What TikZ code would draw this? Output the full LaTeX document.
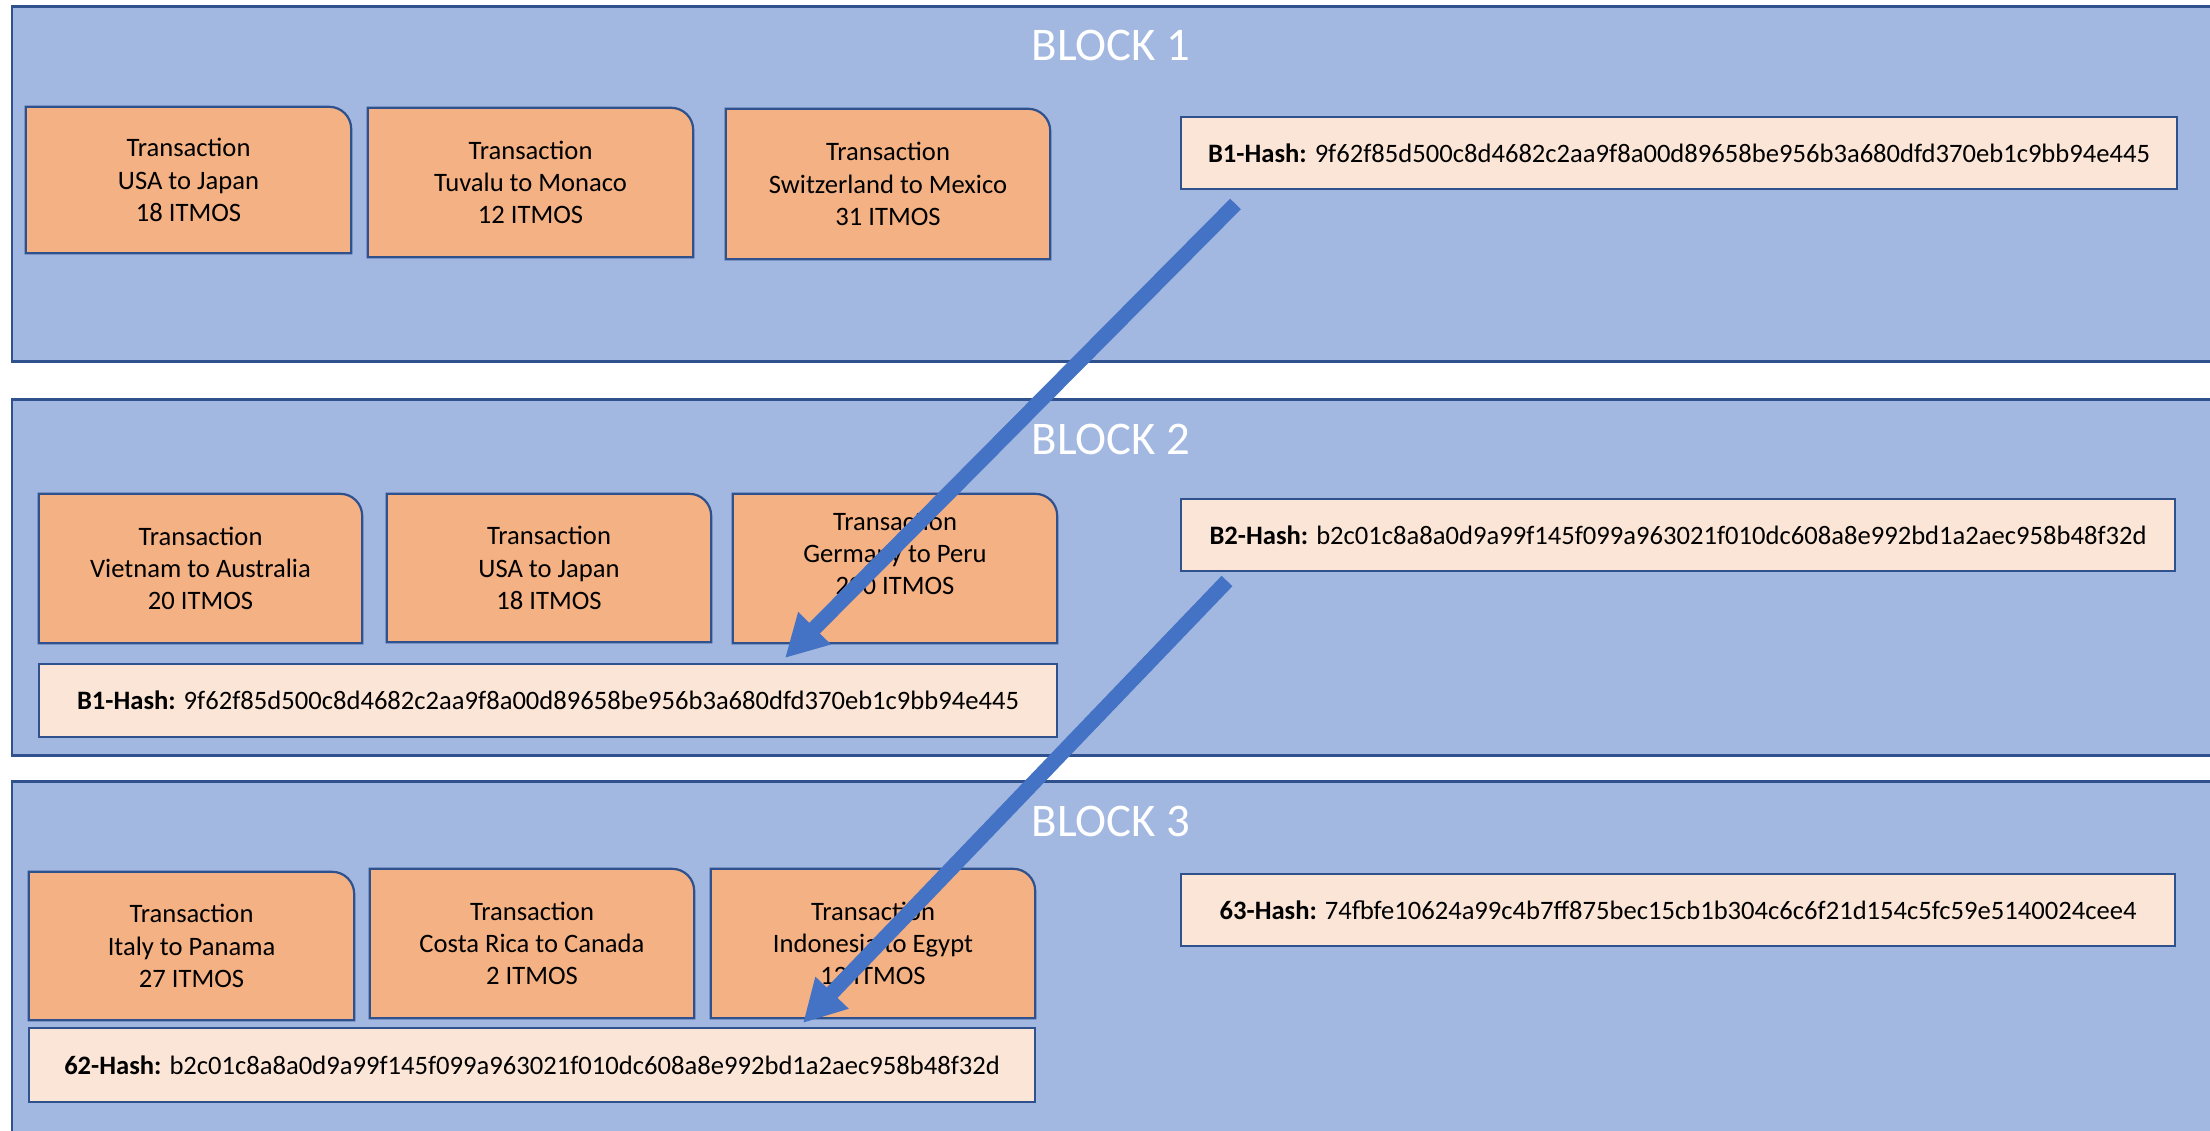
\documentclass[tikz,border=0pt]{standalone}
\usepackage{fontspec}
\setmainfont{Carlito}
\usetikzlibrary{arrows.meta,backgrounds}
\definecolor{blockfill}{HTML}{A2B8E1}
\definecolor{edgeblue}{HTML}{2F528F}
\definecolor{txfill}{HTML}{F4B183}
\definecolor{hashfill}{HTML}{FBE5D6}
\definecolor{arrowblue}{HTML}{4472C4}
\newcommand\bodysize{\fontsize{26.6pt}{32.3pt}\selectfont}
\newcommand\titlesize{\fontsize{46.8pt}{56pt}\selectfont}
\tikzset{
  blockbox/.style={fill=blockfill, draw=edgeblue, line width=2.6pt},
  txnode/.style={draw=none, fill=none, align=center, inner sep=0pt, font=\bodysize},
  txshape/.style={fill=txfill, draw=edgeblue, line width=2.2pt},
  hashbox/.style={fill=hashfill, draw=edgeblue, line width=2.2pt, inner sep=0pt, font=\bodysize},
  blocktitle/.style={text=white, inner sep=0pt, font=\titlesize},
  link/.style={draw=arrowblue, line width=15pt, -{Triangle[length=42pt,width=43pt]}}
}
\begin{document}
\begin{tikzpicture}[x=1pt,y=-1pt]
\useasboundingbox (0,0) rectangle (2210,1131);

% transaction texts (shapes drawn on background)
\node[txnode, minimum width=325pt, minimum height=146pt] (t11) at (188.5,180) {Transaction\\USA to Japan\\18 ITMOS};
\node[txnode, minimum width=325pt, minimum height=149pt] (t12) at (530.5,182.5) {Transaction\\Tuvalu to Monaco\\12 ITMOS};
\node[txnode, minimum width=324pt, minimum height=150pt] (t13) at (888,184) {Transaction\\Switzerland to Mexico\\31 ITMOS};

\node[txnode, minimum width=323pt, minimum height=149pt] (t21) at (200.5,568.5) {Transaction\\Vietnam to Australia\\20 ITMOS};
\node[txnode, minimum width=324pt, minimum height=148pt] (t22) at (549,568) {Transaction\\USA to Japan\\18 ITMOS};
\node[txnode, minimum width=324pt, minimum height=149pt, text depth=30pt] (t23) at (895,568.5) {Transaction\\Germany to Peru\\200 ITMOS};

\node[txnode, minimum width=325pt, minimum height=148pt] (t31) at (191.5,946) {Transaction\\Italy to Panama\\27 ITMOS};
\node[txnode, minimum width=324pt, minimum height=149pt] (t32) at (532,943.5) {Transaction\\Costa Rica to Canada\\2 ITMOS};
\node[txnode, minimum width=324pt, minimum height=149pt] (t33) at (873,943.5) {Transaction\\Indonesia to Egypt\\12 ITMOS};

% hash boxes
\node[hashbox, minimum width=996pt, minimum height=72pt] (h1) at (1679,153) {\textbf{B1-Hash:} 9f62f85d500c8d4682c2aa9f8a00d89658be956b3a680dfd370eb1c9bb94e445};
\node[hashbox, minimum width=994pt, minimum height=72pt] (h2) at (1678,535) {\textbf{B2-Hash:} b2c01c8a8a0d9a99f145f099a963021f010dc608a8e992bd1a2aec958b48f32d};
\node[hashbox, minimum width=994pt, minimum height=72pt] (h3) at (1678,910) {\textbf{63-Hash:} 74fbfe10624a99c4b7ff875bec15cb1b304c6c6f21d154c5fc59e5140024cee4};
\node[hashbox, minimum width=1018pt, minimum height=73pt] (p2) at (548,700.5) {\textbf{B1-Hash:} 9f62f85d500c8d4682c2aa9f8a00d89658be956b3a680dfd370eb1c9bb94e445};
\node[hashbox, minimum width=1006pt, minimum height=74pt] (p3) at (532,1065) {\textbf{62-Hash:} b2c01c8a8a0d9a99f145f099a963021f010dc608a8e992bd1a2aec958b48f32d};

% titles
\node[blocktitle] (title1) at (1111,45) {BLOCK 1};
\node[blocktitle] (title2) at (1111,439) {BLOCK 2};
\node[blocktitle] (title3) at (1111,821) {BLOCK 3};

\begin{scope}[on background layer]
  \node[blockbox, anchor=north west, minimum width=2202pt, minimum height=355pt] (b1) at (10.5,5) {};
  \node[blockbox, anchor=north west, minimum width=2202pt, minimum height=356pt] (b2) at (10.5,398) {};
  \node[blockbox, anchor=north west, minimum width=2202pt, minimum height=360pt] (b3) at (10.5,780) {};
  \foreach \t in {t11,t12,t13,t21,t22,t23,t31,t32,t33}{
    \path[txshape] (\t.south west) -- (\t.north west) [rounded corners=22pt] -- (\t.north east) [sharp corners] -- (\t.south east) -- cycle;
  }
\end{scope}

% links
\coordinate (a1s) at (1235.5,204);
\coordinate (a1e) at (785,658);
\coordinate (a2s) at (1227,581);
\coordinate (a2e) at (803,1023);
\draw[link] (a1s) -- (a1e);
\draw[link] (a2s) -- (a2e);
\end{tikzpicture}
\end{document}
